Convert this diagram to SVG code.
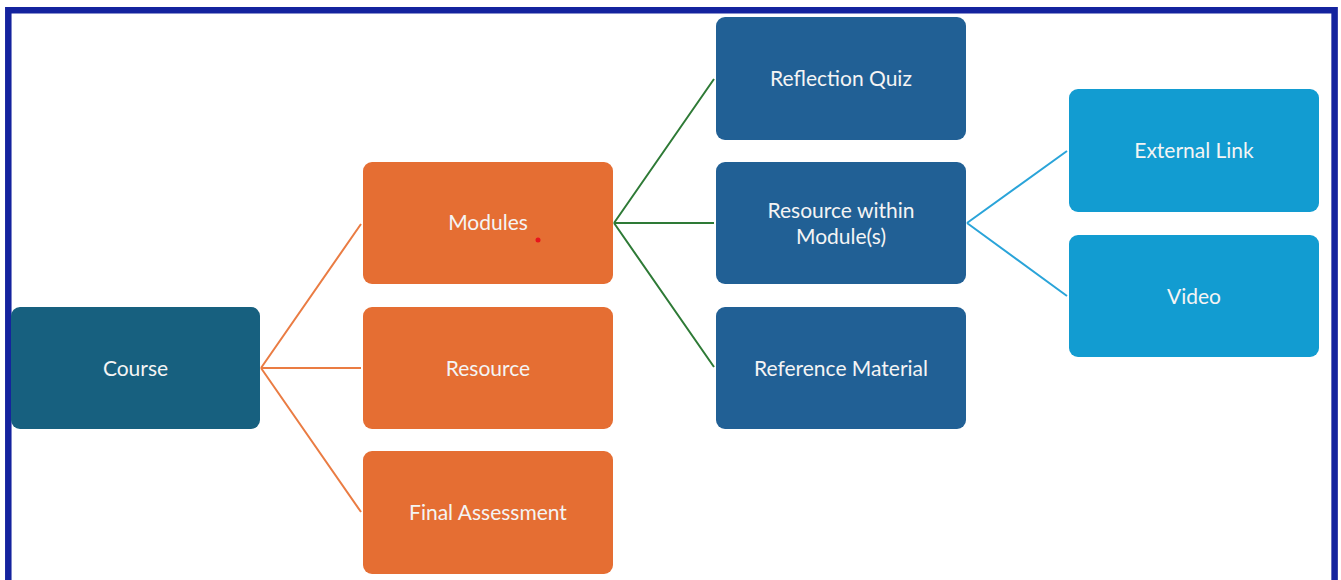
<svg xmlns="http://www.w3.org/2000/svg" width="1341" height="580" viewBox="0 0 1341 580">
  <style>
    .box { stroke: none; }
    .course { fill: #17607f; }
    .orange { fill: #e56e33; }
    .blue { fill: #216095; }
    .light { fill: #129cd1; }
    .label { font-family: Lato, "Open Sans", "Liberation Sans", sans-serif; font-size: 21px; fill: #f4f4f4; text-anchor: middle; dominant-baseline: central; }
    .c-orange { stroke: #ea7c43; stroke-width: 2; fill: none; }
    .c-green { stroke: #2e7a36; stroke-width: 2; fill: none; }
    .c-light { stroke: #2aa4d9; stroke-width: 2; fill: none; }
  </style>

  <rect x="0" y="0" width="1341" height="580" fill="#ffffff"/>
  <!-- frame, open at the bottom -->
  <path d="M8.3 580 V10.2 H1334.6 V580" fill="none" stroke="#14239e" stroke-width="6.5"/>

  <g id="connectors">
    <path class="c-orange" d="M261 368 L361 224 M261 368 L361 368 M261 368 L361 512"/>
    <path class="c-green" d="M614 223 L714 79 M614 223 L714 223 M614 223 L714 367"/>
    <path class="c-light" d="M967 223 L1067 151 M967 223 L1067 296"/>
  </g>

  <g id="course">
    <rect class="box course" x="11" y="307" width="249" height="122" rx="9"/>
    <text class="label" x="135.5" y="367">Course</text>
  </g>

  <g id="modules">
    <rect class="box orange" x="363" y="162" width="250" height="122" rx="9"/>
    <text class="label" x="488" y="221">Modules</text>
    <circle cx="538" cy="240" r="2.5" fill="#e8141c"/>
  </g>

  <g id="resource">
    <rect class="box orange" x="363" y="307" width="250" height="122" rx="9"/>
    <text class="label" x="488" y="367">Resource</text>
  </g>

  <g id="final-assessment">
    <rect class="box orange" x="363" y="451" width="250" height="123" rx="9"/>
    <text class="label" x="488" y="511">Final Assessment</text>
  </g>

  <g id="reflection-quiz">
    <rect class="box blue" x="716" y="17" width="250" height="123" rx="9"/>
    <text class="label" x="841" y="77">Reflection Quiz</text>
  </g>

  <g id="resource-within-modules">
    <rect class="box blue" x="716" y="162" width="250" height="122" rx="9"/>
    <text class="label" x="841" y="209">Resource within</text>
    <text class="label" x="841" y="235">Module(s)</text>
  </g>

  <g id="reference-material">
    <rect class="box blue" x="716" y="307" width="250" height="122" rx="9"/>
    <text class="label" x="841" y="367">Reference Material</text>
  </g>

  <g id="external-link">
    <rect class="box light" x="1069" y="89" width="250" height="123" rx="9"/>
    <text class="label" x="1194" y="149">External Link</text>
  </g>

  <g id="video">
    <rect class="box light" x="1069" y="235" width="250" height="122" rx="9"/>
    <text class="label" x="1194" y="295">Video</text>
  </g>
</svg>
